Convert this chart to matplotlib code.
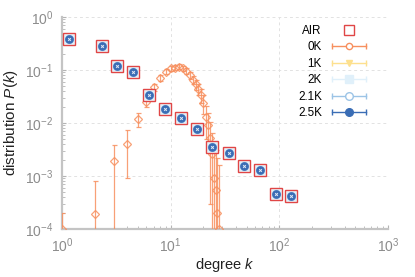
import matplotlib
matplotlib.use("Agg")
import matplotlib.pyplot as plt
from matplotlib.lines import Line2D
from matplotlib.legend_handler import HandlerLine2D, HandlerTuple
import numpy as np

plt.rcParams['font.family'] = ['Liberation Sans', 'DejaVu Sans']
plt.rcParams['mathtext.fontset'] = 'custom'
plt.rcParams['mathtext.rm'] = 'Liberation Sans'
plt.rcParams['mathtext.it'] = 'Liberation Sans:italic'

# AIR (and the 1K..2.5K runs, which sit on the same points)
air_k = [1.16, 2.35, 3.23, 4.54, 6.4, 8.8, 12.4, 17.4, 24.3, 34.2, 47.1, 66.2, 93.2, 129]
air_p = [0.385, 0.284, 0.119, 0.0913, 0.0338, 0.0184, 0.0124, 0.0077,
         0.00348, 0.00268, 0.00155, 0.00128, 0.000457, 0.00042]

# 0K run
k0 = [1, 2, 3, 4, 5, 6, 7, 8, 9, 10, 11, 12, 13, 14, 15, 16, 17, 18, 19, 20,
      21, 22, 23, 24, 25, 26, 27, 28]
p0 = [1e-4, 1.9e-4, 1.9e-3, 4.1e-3, 0.0119, 0.0252, 0.047, 0.0716, 0.093, 0.108,
      0.110, 0.115, 0.108, 0.097, 0.080, 0.066, 0.054, 0.044, 0.034, 0.024,
      0.013, 0.0092, 0.0053, 0.0026, 9e-4, 5.5e-4, 2e-4, 1e-4]
e0 = [1e-4, 6e-4, 1.95e-3, 3.2e-3, 3.5e-3, 5e-3, 7e-3, 9e-3, 0.01, 0.012,
      0.012, 0.013, 0.012, 0.012, 0.012, 0.012, 0.012, 0.011, 0.010, 0.009,
      0.008, 0.006, 0.005, 0.004, 3e-3, 2.5e-3, 2e-3, 1.5e-3]

labels = ['AIR', '0K', '1K', '2K', '2.1K', '2.5K']
c_air = '#e04646'
c0 = '#f7905f'
c1 = '#fde08e'
c2 = '#e0f0fa'
c21 = '#9cc4e6'
c25 = '#3a6db5'
grey = '#8c8c8c'

fig = plt.figure(figsize=(4.15, 2.77), dpi=100)
ax = fig.add_axes([0.149, 0.173, 0.786, 0.766])

ax.errorbar(k0, p0, yerr=e0, fmt='D', ms=3.8, mfc='none', mec=c0, mew=0.9,
            ecolor=c0, elinewidth=0.9, capsize=1.8, capthick=0.9, alpha=0.85, zorder=3)
ax.plot(air_k, air_p, ls='none', marker='s', ms=8.2, mfc='#f6d8d8', mec=c_air, mew=1.0, zorder=4)
ax.plot(air_k, air_p, ls='none', marker='s', ms=6.5, mfc=c2, mec='none', zorder=5)
ax.plot(air_k, air_p, ls='none', marker='v', ms=4.5, mfc=c1, mec='none', zorder=6)
ax.plot(air_k, air_p, ls='none', marker='o', ms=5.8, mfc='none', mec=c21, mew=0.8, zorder=7)
ax.plot(air_k, air_p, ls='none', marker='o', ms=5.2, mfc=c25, mec=c25, zorder=8)
ax.plot(air_k, air_p, ls='none', marker='x', ms=2.0, mec='#dfe9f6', mew=0.7, zorder=9)

ax.set_xscale('log')
ax.set_yscale('log')
ax.set_xlim(1, 1000)
ax.set_ylim(1e-4, 1)

ax.grid(True, which='major', ls=(0, (3, 3)), color='#e2e2e2', lw=0.7)
for s in ['top', 'right']:
    ax.spines[s].set_visible(False)
for s in ['left', 'bottom']:
    ax.spines[s].set_color('#c4c4c4')
    ax.spines[s].set_linewidth(1.6)
ax.tick_params(which='both', direction='in', colors='#b4b4b4', labelcolor=grey, labelsize=10)
ax.tick_params(which='major', length=3)
ax.tick_params(which='minor', length=2)
ax.tick_params(axis='x', which='major', pad=5)
ax.tick_params(axis='y', which='major', pad=6)

ax.set_xlabel('degree $k$', fontsize=10.5, color='#222222', labelpad=1)
ax.set_ylabel('distribution $P(k)$', fontsize=11, color='#222222', labelpad=4)

# legend: label on the left, line with caps and marker on the right
def cap_line(c):
    return Line2D([], [], color=c, lw=1.0, marker='|', ms=4, mew=1.0)

h_air = Line2D([], [], ls='none', marker='s', ms=7, mfc='none', mec=c_air, mew=1.0)
m0 = Line2D([], [], ls='none', marker='o', ms=4.5, mfc='white', mec=c0, mew=1.0)
m1 = Line2D([], [], ls='none', marker='v', ms=5, mfc=c1, mec=c1)
m2 = Line2D([], [], ls='none', marker='s', ms=5.5, mfc=c2, mec=c2)
m21 = Line2D([], [], ls='none', marker='o', ms=5.5, mfc='white', mec=c21, mew=1.0)
m25 = Line2D([], [], ls='none', marker='o', ms=5.5, mfc=c25, mec=c25)

handles = [h_air,
           (cap_line(c0), m0),
           (cap_line(c1), m1),
           (cap_line(c2), m2),
           (cap_line(c21), m21),
           (cap_line(c25), m25)]
hmap = {tuple: HandlerTuple(ndivide=1)}
for m in [h_air, m0, m1, m2, m21, m25]:
    hmap[m] = HandlerLine2D(numpoints=1)

ax.legend(handles, labels, handler_map=hmap, numpoints=2, markerfirst=False,
          frameon=False, fontsize=8.4, loc='upper right', bbox_to_anchor=(0.965, 0.995),
          handlelength=3.5, handletextpad=0.6, labelspacing=0.38, borderaxespad=0.2)

fig.savefig('out.png', dpi=100)
